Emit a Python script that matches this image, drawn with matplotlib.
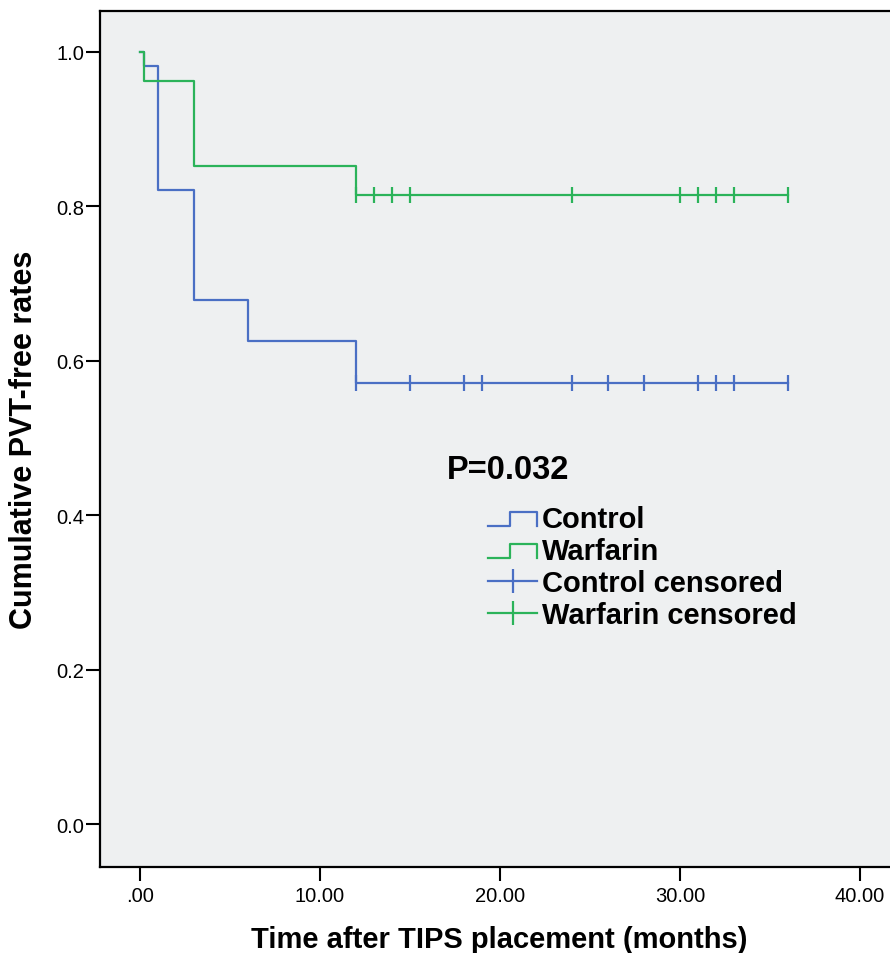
#  Kaplan-Meier plot: PVT-free rates after TIPS, control vs warfarin

import matplotlib.pyplot as plt
from matplotlib.legend_handler import HandlerBase
from matplotlib.lines import Line2D
from matplotlib.ticker import FuncFormatter

# survival steps (time in months, cumulative PVT-free rate)
control_t = [0, 0.2, 1, 3, 6, 12, 36]
control_s = [1.0, 0.982, 0.821, 0.679, 0.625, 0.571, 0.571]
warfarin_t = [0, 0.2, 3, 12, 36]
warfarin_s = [1.0, 0.963, 0.852, 0.815, 0.815]

# censored observations
control_cens = [12, 15, 18, 19, 24, 26, 28, 31, 32, 33, 36]
warfarin_cens = [12, 13, 14, 15, 24, 30, 31, 32, 33, 36]

blue = '#4a6fc4'
green = '#2bb35a'
bg = '#eef0f1'

plt.rcParams['font.family'] = ['Liberation Sans', 'DejaVu Sans']

fig = plt.figure(figsize=(8.9, 9.54), dpi=100)
ax = fig.add_axes([0.1124, 0.0901, 0.8976, 0.8973])
ax.set_facecolor(bg)

ax.step(control_t, control_s, where='post', color=blue, lw=1.6)
ax.step(warfarin_t, warfarin_s, where='post', color=green, lw=1.6)
ax.plot(control_cens, [control_s[-1]] * len(control_cens), ls='none',
        marker='|', ms=12, mew=1.6, color=blue)
ax.plot(warfarin_cens, [warfarin_s[-1]] * len(warfarin_cens), ls='none',
        marker='|', ms=12, mew=1.6, color=green)

ax.set_xlim(-2.22, 42.17)
ax.set_ylim(-0.0557, 1.053)
ax.set_xticks([0, 10, 20, 30, 40])
ax.set_yticks([0, 0.2, 0.4, 0.6, 0.8, 1.0])
ax.xaxis.set_major_formatter(FuncFormatter(lambda v, p: '.00' if v == 0 else f'{v:.2f}'))
ax.yaxis.set_major_formatter(FuncFormatter(lambda v, p: f'{v:.1f}'))
ax.tick_params(direction='out', length=10, width=1.5, labelsize=14.5)
ax.tick_params(axis='x', pad=4)
ax.tick_params(axis='y', pad=1.5)
ax.spines['right'].set_visible(False)
for s in ['left', 'bottom', 'top']:
    ax.spines[s].set_linewidth(1.6)

ax.set_xlabel('Time after TIPS placement (months)', fontsize=21, fontweight='bold', labelpad=14)
ax.set_ylabel('Cumulative PVT-free rates', fontsize=22, fontweight='bold', labelpad=12)


# step-shaped legend handle, as in SPSS output
class StepHandler(HandlerBase):
    def create_artists(self, legend, orig, xd, yd, w, h, fontsize, trans):
        xs = [xd, xd + w * 0.45, xd + w * 0.45, xd + w, xd + w]
        ys = [yd + h * 0.05, yd + h * 0.05, yd + h * 0.75, yd + h * 0.75, yd + h * 0.05]
        ln = Line2D(xs, ys, color=orig.get_color(), lw=1.6, transform=trans)
        return [ln]


h1 = Line2D([], [], color=blue)
h2 = Line2D([], [], color=green)
h3 = Line2D([], [], color=blue, lw=1.6, marker='|', ms=17, mew=1.6)
h4 = Line2D([], [], color=green, lw=1.6, marker='|', ms=17, mew=1.6)

fig.text(0.502, 0.507, 'P=0.032', fontsize=23.5, fontweight='bold', va='center', ha='left')

fig.legend([h1, h2, h3, h4],
           ['Control', 'Warfarin', 'Control censored', 'Warfarin censored'],
           handler_map={h1: StepHandler(), h2: StepHandler()},
           loc='upper left', bbox_to_anchor=(0.548, 0.4696), frameon=False,
           borderaxespad=0, borderpad=0,
           handlelength=1.7, handletextpad=0.15, labelspacing=0.14,
           prop={'size': 21, 'weight': 'bold'})

plt.savefig('out.png', dpi=100)
